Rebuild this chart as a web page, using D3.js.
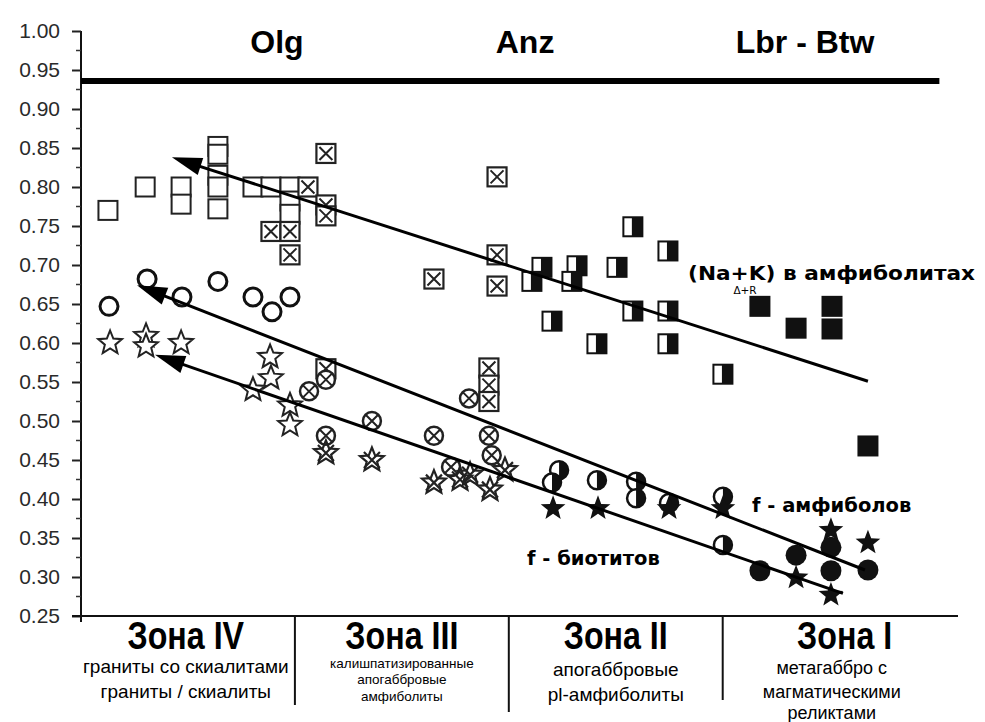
<!DOCTYPE html>
<html><head><meta charset="utf-8">
<script src="https://cdn.jsdelivr.net/npm/d3@7"></script>
<style>body{margin:0;background:#fff}svg{display:block}</style>
</head><body><svg id="c" width="985" height="722"></svg>
<script>
// ---------- data ----------
const yTickValues = [0.25,0.30,0.35,0.40,0.45,0.50,0.55,0.60,0.65,0.70,0.75,0.80,0.85,0.90,0.95,1.00];
const groupLabels = ["Olg","Anz","Lbr - Btw"];
const groupX = [0.916, 2.076, 3.385];
const zoneTitles = ["Зона IV","Зона III","Зона II","Зона I"];
const zoneTitleX = [0.49, 1.5, 2.5, 3.57];
const zoneSubtitles = [
  ["граниты со скиалитами","граниты / скиалиты"],
  ["калишпатизированные","апогаббровые","амфиболиты"],
  ["апогаббровые","pl-амфиболиты"],
  ["метагаббро с","магматическими","реликтами"]
];
const zoneSubX = [0.49, 1.5, 2.5, 3.51];
const boundaryLevel = 0.936;

// (Na+K) in amphibolites — squares by zone
const sqOpen  = [[0.126,0.770],[0.300,0.800],[0.468,0.800],[0.468,0.778],[0.640,0.852],[0.640,0.842],[0.640,0.815],[0.640,0.800],[0.640,0.772],[0.804,0.800],[0.888,0.800],[0.977,0.800],[0.977,0.782],[0.977,0.765]];
const sqCross = [[0.888,0.743],[0.977,0.743],[0.977,0.713],[1.061,0.800],[1.145,0.843],[1.145,0.777],[1.145,0.763],[1.145,0.567],[1.650,0.682],[1.945,0.813],[1.945,0.713],[1.945,0.673],[1.907,0.568],[1.907,0.546],[1.907,0.525]];
const sqHalf  = [[2.580,0.749],[2.744,0.718],[2.155,0.697],[2.108,0.679],[2.319,0.699],[2.295,0.679],[2.506,0.697],[2.202,0.628],[2.580,0.641],[2.744,0.641],[2.412,0.599],[2.744,0.599],[3.001,0.560]];
const sqFill  = [[3.174,0.647],[3.343,0.619],[3.511,0.647],[3.511,0.618],[3.679,0.468]];
// f — circles by zone
const circOpen  = [[0.131,0.647],[0.309,0.682],[0.472,0.659],[0.640,0.679],[0.804,0.659],[0.893,0.640],[0.977,0.659]];
const circCross = [[1.066,0.538],[1.145,0.553],[1.145,0.481],[1.360,0.500],[1.650,0.481],[1.730,0.441],[1.814,0.529],[1.907,0.481],[1.920,0.456]];
const circHalf  = [[2.235,0.437],[2.202,0.421],[2.412,0.424],[2.595,0.422],[2.595,0.401],[2.749,0.395],[3.001,0.403],[3.001,0.341]];
const circFill  = [[3.174,0.308],[3.343,0.328],[3.506,0.338],[3.506,0.308],[3.679,0.309]];
// f — stars by zone
const starOpen  = [[0.136,0.600],[0.304,0.609],[0.304,0.596],[0.468,0.600],[0.884,0.582],[0.888,0.555],[0.804,0.540],[0.977,0.520],[0.977,0.495]];
const starCross = [[1.145,0.459],[1.360,0.450],[1.650,0.421],[1.772,0.425],[1.819,0.431],[1.912,0.412],[1.982,0.437]];
const starFill  = [[2.207,0.388],[2.417,0.388],[2.749,0.388],[3.001,0.388],[3.343,0.299],[3.506,0.360],[3.506,0.277],[3.679,0.344]];
// trend arrows [start(arrow head), end]
const trendNaK  = [[0.425,0.838],[3.679,0.551]];
const trendAmph = [[0.262,0.674],[3.665,0.309]];
const trendBio  = [[0.346,0.585],[3.562,0.279]];

// ---------- chart ----------
const svg = d3.select("#c");
const x = d3.scaleLinear().domain([0,4.1]).range([81,958]);
const y = d3.scaleLinear().domain([0.25,1.0]).range([616,31]);
const FONT = "'Liberation Sans',Arial,sans-serif";

// y axis
const yAxis = d3.axisLeft(y).tickValues(yTickValues).tickFormat(d3.format(".2f")).tickSize(9).tickPadding(12);
const gy = svg.append("g").attr("transform","translate(81,0)").call(yAxis);
gy.select(".domain").attr("stroke","#111").attr("stroke-width",2).attr("d","M0,31V622");
gy.selectAll(".tick line").attr("stroke","#222").attr("stroke-width",2);
gy.selectAll(".tick text").attr("font-family",FONT).attr("font-size",21).attr("fill","#2a2a2a");
const minor = d3.range(0.275,1.0,0.05);
svg.append("g").selectAll("line").data(minor).join("line")
  .attr("x1",76).attr("x2",81).attr("y1",d=>y(d)).attr("y2",d=>y(d)).attr("stroke","#333").attr("stroke-width",1.5);

// x baseline
svg.append("line").attr("x1",72).attr("x2",x(4.1)).attr("y1",y(0.25)).attr("y2",y(0.25)).attr("stroke","#111").attr("stroke-width",2);

// boundary
svg.append("line").attr("x1",x(0)).attr("x2",x(4.013)).attr("y1",y(boundaryLevel)).attr("y2",y(boundaryLevel)).attr("stroke","#000").attr("stroke-width",6);

// group headers
svg.append("g").selectAll("text").data(groupLabels).join("text")
  .attr("x",(d,i)=>x(groupX[i])).attr("y",53).attr("text-anchor","middle")
  .attr("font-family",FONT).attr("font-weight","bold").attr("font-size",32).attr("fill","#000").text(d=>d);

// zones
const zoneDivBottom = [705,712,700];
svg.append("g").selectAll("line").data([1,2,3]).join("line")
  .attr("x1",d=>x(d)).attr("x2",d=>x(d)).attr("y1",y(0.25)).attr("y2",(d,i)=>zoneDivBottom[i])
  .attr("stroke","#111").attr("stroke-width",2);
const zg = svg.append("g").attr("font-family",FONT).attr("text-anchor","middle").attr("fill","#000");
zoneTitles.forEach((t,i)=>{
  zg.append("text").attr("transform",`translate(${x(zoneTitleX[i])},649) scale(0.92,1.1)`)
    .attr("font-weight","bold").attr("font-size",35).text(t);
});
const subStyles = [
  {size:19, ys:[673,698]},
  {size:13.5, ys:[668,684,701]},
  {size:19, ys:[676,701]},
  {size:18, ys:[674,698,719]}
];
zoneSubtitles.forEach((lines,i)=>{
  lines.forEach((l,j)=>{
    zg.append("text").attr("x",x(zoneSubX[i])).attr("y",subStyles[i].ys[j]).attr("font-size",subStyles[i].size).text(l);
  });
});

// marker drawing helpers
function starPath(R, r){
  const p=[];
  for(let k=0;k<10;k++){
    const a = -Math.PI/2 + k*Math.PI/5;
    const rr = k%2===0?R:r;
    p.push([rr*Math.cos(a), rr*Math.sin(a)]);
  }
  return "M"+p.map(q=>q[0].toFixed(2)+","+q[1].toFixed(2)).join("L")+"Z";
}
const S = 9.5; // half square
const mk = svg.append("g");
function place(data){ return mk.append("g").selectAll("g").data(data).join("g").attr("transform",d=>`translate(${x(d[0])},${y(d[1])})`); }

// squares
let g;
g = place(sqOpen);
g.append("rect").attr("x",-S).attr("y",-S).attr("width",2*S).attr("height",2*S).attr("fill","#fff").attr("stroke","#222").attr("stroke-width",2);
g = place(sqCross);
g.append("rect").attr("x",-S).attr("y",-S).attr("width",2*S).attr("height",2*S).attr("fill","#fff").attr("stroke","#222").attr("stroke-width",2.2);
g.append("path").attr("d",`M${-S+3},${-S+3}L${S-3},${S-3}M${S-3},${-S+3}L${-S+3},${S-3}`).attr("stroke","#222").attr("stroke-width",2);
g = place(sqHalf);
g.append("rect").attr("x",-S).attr("y",-S).attr("width",2*S).attr("height",2*S).attr("fill","#fff").attr("stroke","#111").attr("stroke-width",2);
g.append("rect").attr("x",-1).attr("y",-S).attr("width",S+1).attr("height",2*S).attr("fill","#111");
g = place(sqFill);
g.append("rect").attr("x",-S-1).attr("y",-S-1).attr("width",2*S+2).attr("height",2*S+2).attr("fill","#111");

// circles
const CR = 9;
g = place(circOpen);
g.append("circle").attr("r",CR).attr("fill","#fff").attr("stroke","#111").attr("stroke-width",3);
g = place(circCross);
g.append("circle").attr("r",CR).attr("fill","#fff").attr("stroke","#222").attr("stroke-width",2.5);
g.append("path").attr("d","M-6,-6L6,6M6,-6L-6,6").attr("stroke","#222").attr("stroke-width",2);
g = place(circHalf);
g.append("circle").attr("r",CR).attr("fill","#fff").attr("stroke","#111").attr("stroke-width",2.5);
g.append("path").attr("d",`M0,${-CR}A${CR},${CR} 0 0 1 0,${CR}Z`).attr("fill","#111");
g = place(circFill);
g.append("circle").attr("r",CR+1.5).attr("fill","#111");

// stars
const sp = starPath(12.5,5.5);
g = place(starOpen);
g.append("path").attr("d",sp).attr("fill","#fff").attr("stroke","#222").attr("stroke-width",2);
g = place(starCross);
g.append("path").attr("d",sp).attr("fill","none").attr("stroke","#222").attr("stroke-width",2.2);
g.append("path").attr("d","M-8,-8L8,8M8,-8L-8,8").attr("stroke","#222").attr("stroke-width",2.2);
g = place(starFill);
g.append("path").attr("d",starPath(13,5.5)).attr("fill","#111");

// trend arrows
function arrow(tr){
  const [a,b] = tr;
  const x1=x(a[0]), y1=y(a[1]), x2=x(b[0]), y2=y(b[1]);
  const len = Math.hypot(x2-x1,y2-y1);
  svg.append("line").attr("x1",x1+8*(x2-x1)/len).attr("y1",y1+8*(y2-y1)/len)
    .attr("x2",x2).attr("y2",y2).attr("stroke","#000").attr("stroke-width",3);
  const ang = Math.atan2(y2-y1,x2-x1);
  const L=30, W=9;
  const bx = x1+L*Math.cos(ang), by = y1+L*Math.sin(ang);
  const px = -Math.sin(ang)*W, py = Math.cos(ang)*W;
  svg.append("path").attr("d",`M${x1},${y1}L${bx+px},${by+py}L${bx-px},${by-py}Z`).attr("fill","#000");
}
arrow(trendNaK); arrow(trendAmph); arrow(trendBio);

// annotations
const AF = "'DejaVu Sans',Verdana,sans-serif";
const ann = svg.append("g").attr("font-family",AF).attr("font-weight","bold").attr("fill","#000");
ann.append("text").attr("x",x(2.838)).attr("y",y(0.681)).attr("font-size",19.5).attr("textLength",287).attr("lengthAdjust","spacingAndGlyphs").text("(Na+K) в амфиболитах");
ann.append("text").attr("x",x(3.05)).attr("y",y(0.681)+14).attr("font-size",10.5).attr("font-weight","normal").text("Δ+R");
ann.append("text").attr("x",x(3.137)).attr("y",y(0.383)).attr("font-size",19.5).text("f - амфиболов");
ann.append("text").attr("x",x(2.085)).attr("y",y(0.315)).attr("font-size",19.5).text("f - биотитов");
</script></body></html>
